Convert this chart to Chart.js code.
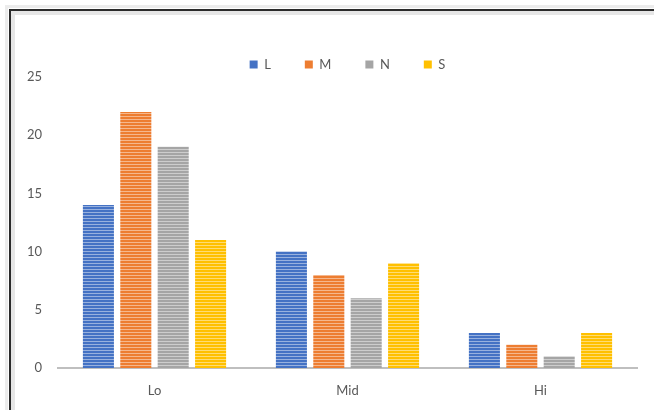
<!DOCTYPE html>
<html>
<head>
<meta charset="utf-8">
<script src="https://cdn.jsdelivr.net/npm/chart.js@4"></script>
<style>
  html, body { margin: 0; padding: 0; background: #fff; }
  #wrap { width: 654px; height: 410px; position: relative; }
</style>
</head>
<body>
<div id="wrap"><canvas id="c" width="654" height="410"></canvas></div>
<script>
// Chart data
const categories = ['Lo', 'Mid', 'Hi'];
const seriesNames = ['L', 'M', 'N', 'S'];
const valuesL = [14, 10, 3];
const valuesM = [22, 8, 2];
const valuesN = [19, 6, 1];
const valuesS = [11, 9, 3];
const yTicks = [0, 5, 10, 15, 20, 25];

const seriesValues = [valuesL, valuesM, valuesN, valuesS];
const seriesColors = ['#4472C4', '#ED7D31', '#A5A5A5', '#FFC000'];

// Horizontal pin-stripe fill for the bars
function stripes(color) {
  const p = document.createElement('canvas');
  p.width = 4; p.height = 3;
  const g = p.getContext('2d');
  g.fillStyle = color;
  g.fillRect(0, 0, 4, 3);
  g.fillStyle = 'rgba(255,255,255,0.45)';
  g.fillRect(0, 2, 4, 1);
  return g.createPattern(p, 'repeat');
}

// Outer frame around the chart
const framePlugin = {
  id: 'frame',
  beforeDraw(chart) {
    const ctx = chart.ctx;
    ctx.save();
    ctx.fillStyle = '#ffffff';
    ctx.fillRect(0, 0, chart.width, chart.height);
    ctx.fillStyle = '#ececec';
    ctx.fillRect(5, 5, 3, chart.height - 5);
    ctx.fillRect(5, 5, chart.width - 5, 3);
    ctx.fillStyle = '#e6e6e6';
    ctx.fillRect(11, 11, 4, chart.height - 11);
    ctx.fillRect(11, 11, chart.width - 11, 4);
    ctx.fillStyle = '#2b2b2b';
    ctx.fillRect(9, 9, 2, chart.height - 9);
    ctx.fillRect(9, 9, chart.width - 9, 2);
    ctx.restore();
  }
};

// Legend: wide horizontal spacing but a compact block height, nudged right
const LEGEND_HEIGHT = 53;
const LEGEND_SHIFT = 19;
const legendTweak = {
  id: 'legendTweak',
  beforeUpdate(chart) {
    const lg = chart.legend;
    if (lg && !lg._compact) {
      const fit = lg.fit;
      lg.fit = function () {
        fit.call(this);
        this.height = LEGEND_HEIGHT;
      };
      lg._compact = true;
    }
  },
  afterLayout(chart) {
    const lg = chart.legend;
    if (lg) {
      lg.left += LEGEND_SHIFT;
      lg.right += LEGEND_SHIFT;
    }
  }
};

const FONT = { family: 'Lato, "Open Sans", sans-serif', size: 13 };

new Chart(document.getElementById('c'), {
  type: 'bar',
  data: {
    labels: categories,
    datasets: seriesNames.map((name, i) => ({
      label: name,
      data: seriesValues[i],
      backgroundColor: stripes(seriesColors[i]),
      borderWidth: 0,
      categoryPercentage: 0.775,
      barPercentage: 0.83
    }))
  },
  options: {
    responsive: false,
    animation: false,
    layout: { padding: { left: 20, right: 17, top: 24, bottom: 3 } },
    plugins: {
      tooltip: { enabled: false },
      legend: {
        position: 'top',
        align: 'center',
        labels: {
          font: FONT,
          color: '#595959',
          boxWidth: 8,
          boxHeight: 8,
          padding: 34,
          generateLabels(chart) {
            return chart.data.datasets.map((ds, i) => ({
              text: ds.label,
              fillStyle: seriesColors[i],
              strokeStyle: seriesColors[i],
              lineWidth: 0,
              fontColor: '#595959',
              hidden: false,
              datasetIndex: i
            }));
          }
        }
      }
    },
    scales: {
      x: {
        afterFit(scale) { scale.height = 39; },
        grid: { display: false, drawTicks: false },
        border: { display: true, color: '#bfbfbf', width: 2 },
        ticks: { font: FONT, color: '#595959', padding: 15 }
      },
      y: {
        min: 0,
        max: 25,
        afterFit(scale) { scale.width = 38; },
        afterBuildTicks(scale) { scale.ticks = yTicks.map(v => ({ value: v })); },
        grid: { display: false, drawTicks: false },
        border: { display: false },
        ticks: { font: FONT, color: '#595959', padding: 16 }
      }
    }
  },
  plugins: [framePlugin, legendTweak]
});
</script>
</body>
</html>
